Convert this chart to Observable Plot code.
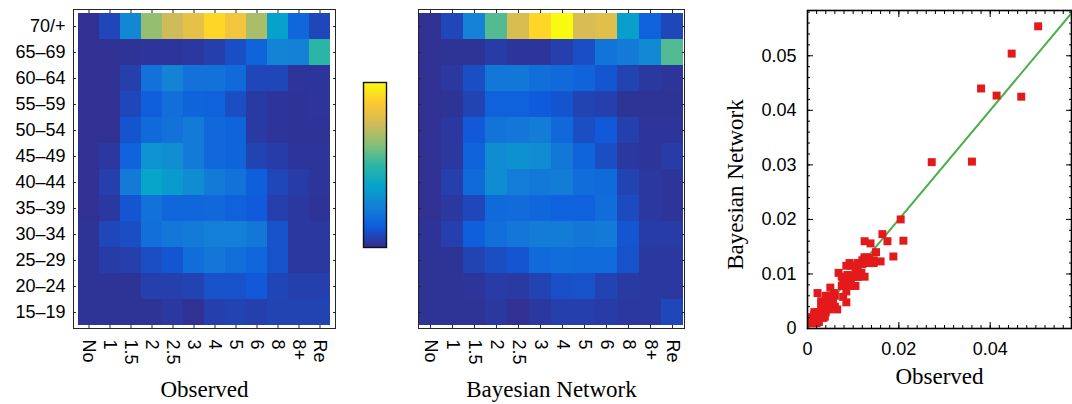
<!DOCTYPE html>
<html>
<head>
<meta charset="utf-8">
<script src="https://cdn.jsdelivr.net/npm/d3@7"></script>
<script src="https://cdn.jsdelivr.net/npm/@observablehq/plot@0.6"></script>
<style>
  html, body { margin: 0; padding: 0; background: #fff; }
  #wrap { position: relative; width: 1072px; height: 404px; overflow: hidden; background: #fff; }
</style>
</head>
<body>
<div id="wrap"></div>
<script>
// ---- data ----
const ageGroups = ["70/+", "65–69", "60–64", "55–59", "50–54", "45–49", "40–44", "35–39", "30–34", "25–29", "20–24", "15–19"];
const categories = ["No", "1", "1.5", "2", "2.5", "3", "4", "5", "6", "8", "8+", "Re"];

// Observed proportions (rows = ageGroups, columns = categories)
const observed = [
  [0.001, 0.004, 0.015, 0.036, 0.0414, 0.0447, 0.0505, 0.0468, 0.038, 0.0204, 0.009, 0.004],
  [0.001, 0.001, 0.0012, 0.0015, 0.0015, 0.002, 0.003, 0.005, 0.0085, 0.0145, 0.0138, 0.0272],
  [0.001, 0.001, 0.003, 0.011, 0.0145, 0.011, 0.011, 0.0095, 0.004, 0.004, 0.0015, 0.0015],
  [0.001, 0.001, 0.004, 0.0075, 0.0105, 0.0085, 0.0078, 0.0048, 0.0022, 0.0015, 0.0013, 0.0015],
  [0.001, 0.001, 0.0058, 0.0095, 0.011, 0.0125, 0.0092, 0.0085, 0.0022, 0.0015, 0.0013, 0.0013],
  [0.001, 0.002, 0.0078, 0.0175, 0.0164, 0.0125, 0.0092, 0.0085, 0.0035, 0.0025, 0.0015, 0.0015],
  [0.001, 0.003, 0.0125, 0.021, 0.0188, 0.016, 0.0125, 0.011, 0.0075, 0.004, 0.0025, 0.0015],
  [0.001, 0.002, 0.006, 0.011, 0.0088, 0.0088, 0.0092, 0.0078, 0.0068, 0.003, 0.002, 0.0013],
  [0.0012, 0.004, 0.005, 0.0105, 0.012, 0.0128, 0.0135, 0.0135, 0.012, 0.0055, 0.002, 0.002],
  [0.0012, 0.0025, 0.003, 0.0048, 0.006, 0.0102, 0.0118, 0.0105, 0.0088, 0.0055, 0.002, 0.002],
  [0.0012, 0.0012, 0.0012, 0.003, 0.003, 0.0035, 0.0055, 0.0055, 0.0065, 0.0038, 0.003, 0.003],
  [0.0012, 0.0012, 0.0012, 0.0012, 0.002, 0.001, 0.003, 0.0035, 0.003, 0.0035, 0.0035, 0.0035]
];

// Bayesian Network proportions (rows = ageGroups, columns = categories)
const bayesian = [
  [0.001, 0.004, 0.014, 0.0306, 0.0427, 0.0504, 0.0554, 0.0425, 0.044, 0.020, 0.008, 0.004],
  [0.001, 0.0012, 0.0012, 0.0025, 0.0015, 0.0015, 0.003, 0.005, 0.0115, 0.0125, 0.0156, 0.0305],
  [0.001, 0.002, 0.005, 0.012, 0.012, 0.0105, 0.0095, 0.0085, 0.006, 0.0035, 0.002, 0.0015],
  [0.001, 0.0012, 0.0035, 0.0078, 0.0078, 0.0068, 0.0058, 0.0035, 0.003, 0.0012, 0.0012, 0.0012],
  [0.001, 0.002, 0.0065, 0.0115, 0.0118, 0.013, 0.0092, 0.0048, 0.0065, 0.003, 0.0015, 0.0015],
  [0.001, 0.002, 0.0085, 0.016, 0.0173, 0.016, 0.012, 0.0085, 0.0048, 0.002, 0.0015, 0.0025],
  [0.001, 0.003, 0.0095, 0.0161, 0.0132, 0.0123, 0.013, 0.0102, 0.0095, 0.0035, 0.002, 0.0015],
  [0.001, 0.002, 0.004, 0.0095, 0.0098, 0.0088, 0.0078, 0.0078, 0.0102, 0.0045, 0.002, 0.0015],
  [0.0013, 0.003, 0.0075, 0.0105, 0.0118, 0.013, 0.013, 0.012, 0.0125, 0.006, 0.0025, 0.0025],
  [0.0012, 0.0012, 0.0035, 0.0048, 0.006, 0.0095, 0.0102, 0.0098, 0.0098, 0.0055, 0.002, 0.002],
  [0.0012, 0.0012, 0.0015, 0.0025, 0.0022, 0.0035, 0.0052, 0.0055, 0.0035, 0.0022, 0.002, 0.002],
  [0.0012, 0.0012, 0.0012, 0.002, 0.001, 0.002, 0.003, 0.003, 0.0025, 0.002, 0.002, 0.004]
];

const parulaStops = ["#352a87", "#0f5cdd", "#1481d6", "#06a4ca", "#2eb7a4", "#87bf77", "#d1bb59", "#fec832", "#f9fb0e"];
const colorMax = 0.0555;
const fitLine = [0, 0.0578];
const scatterXTicks = [0, 0.02, 0.04];
const scatterYTicks = [0, 0.01, 0.02, 0.03, 0.04, 0.05];

// ---- drawing ----
const H = 404;
const wrap = document.getElementById("wrap");
const sansFont = "'Liberation Sans', Arial, Helvetica, sans-serif";
const serifFont = "'Liberation Serif', 'Times New Roman', serif";
const blank = () => "";

function place(svg, left) {
  svg.style.position = "absolute";
  svg.style.left = left + "px";
  svg.style.top = "0px";
  wrap.appendChild(svg);
}

const colorScale = {
  type: "linear",
  domain: parulaStops.map((_, i) => i * colorMax / (parulaStops.length - 1)),
  range: parulaStops,
  interpolate: "rgb",
  clamp: true
};

function heatmap(matrix, title, showYLabels, left, frameLeft, frameRight) {
  const width = frameRight - left + 8;
  const cells = matrix.flatMap((row, i) => row.map((v, j) => ({age: ageGroups[i], cat: categories[j], v})));
  place(Plot.plot({
    width, height: H,
    marginLeft: frameLeft - left, marginRight: width - (frameRight - left),
    marginTop: 9, marginBottom: H - 328,
    x: {domain: categories, padding: 0},
    y: {domain: ageGroups, padding: 0},
    color: colorScale,
    style: {fontFamily: sansFont, fontSize: "18px", color: "#000", background: "transparent", overflow: "visible"},
    marks: [
      Plot.cell(cells, {x: "cat", y: "age", fill: "v"}),
      Plot.frame({stroke: "#262626"}),
      Plot.axisX({anchor: "bottom", tickSize: 3, dy: -3, tickFormat: blank, label: null, stroke: "#262626"}),
      Plot.axisX({anchor: "top", tickSize: 3, dy: 3, tickFormat: blank, label: null, stroke: "#262626"}),
      Plot.axisY({anchor: "left", tickSize: 3, dx: 3, tickFormat: blank, label: null, stroke: "#262626"}),
      Plot.axisY({anchor: "right", tickSize: 3, dx: -3, tickFormat: blank, label: null, stroke: "#262626"}),
      Plot.axisX({anchor: "bottom", tickSize: 0, tickPadding: 11, tickRotate: 90, fontSize: 18, label: null}),
      showYLabels ? Plot.axisY({anchor: "left", tickSize: 0, tickPadding: 8, fontSize: 18, label: null}) : null,
      Plot.text([title], {text: d => d, frameAnchor: "bottom", lineAnchor: "bottom", dy: 68, fontFamily: serifFont, fontSize: 23, fill: "#000"})
    ]
  }), left);
}

heatmap(observed, "Observed", true, 0, 73, 335);
heatmap(bayesian, "Bayesian Network", false, 400, 418, 684);

// colorbar
place(Plot.plot({
  width: 40, height: H,
  marginLeft: 8, marginRight: 9, marginTop: 82, marginBottom: H - 247,
  x: {domain: [0, 1], axis: null},
  y: {domain: [0, colorMax], axis: null},
  color: colorScale,
  style: {background: "transparent"},
  marks: [
    Plot.raster({x1: 0, x2: 1, y1: 0, y2: colorMax, fill: (x, y) => y, pixelSize: 1}),
    Plot.frame({stroke: "#111", strokeWidth: 1.4})
  ]
}), 355);

// scatter
const points = observed.flatMap((row, i) => row.map((v, j) => ({obs: v, bn: bayesian[i][j]})));
const minorTicks = d3.range(0, 0.0581, 0.002);
place(Plot.plot({
  width: 372, height: H,
  marginLeft: 107, marginRight: 1, marginTop: 10, marginBottom: H - 328,
  x: {domain: [0, 0.0578]},
  y: {domain: [0, 0.0583]},
  style: {fontFamily: sansFont, fontSize: "18px", color: "#000", background: "transparent", overflow: "visible"},
  marks: [
    Plot.line(fitLine, {x: d => d, y: d => d, stroke: "#4daf4a", strokeWidth: 2}),
    Plot.dot(points, {x: "obs", y: "bn", symbol: "square", r: 4.5, fill: "#e31a1c", stroke: null}),
    Plot.axisX({anchor: "bottom", ticks: minorTicks, tickSize: 3, dy: -3, tickFormat: blank, label: null, stroke: "#000"}),
    Plot.axisX({anchor: "top", ticks: minorTicks, tickSize: 3, dy: 3, tickFormat: blank, label: null, stroke: "#000"}),
    Plot.axisY({anchor: "left", ticks: minorTicks, tickSize: 3, dx: 3, tickFormat: blank, label: null, stroke: "#000"}),
    Plot.axisY({anchor: "right", ticks: minorTicks, tickSize: 3, dx: -3, tickFormat: blank, label: null, stroke: "#000"}),
    Plot.axisX({anchor: "bottom", ticks: scatterXTicks, tickSize: 6, dy: -6, tickFormat: blank, label: null, stroke: "#000"}),
    Plot.axisX({anchor: "top", ticks: scatterXTicks, tickSize: 6, dy: 6, tickFormat: blank, label: null, stroke: "#000"}),
    Plot.axisY({anchor: "left", ticks: scatterYTicks, tickSize: 6, dx: 6, tickFormat: blank, label: null, stroke: "#000"}),
    Plot.axisY({anchor: "right", ticks: scatterYTicks, tickSize: 6, dx: -6, tickFormat: blank, label: null, stroke: "#000"}),
    Plot.axisX({anchor: "bottom", ticks: scatterXTicks, tickSize: 0, tickPadding: 14, tickFormat: d => String(d), fontSize: 18, label: null}),
    Plot.axisY({anchor: "left", ticks: scatterYTicks, tickSize: 0, tickPadding: 11, tickFormat: d => String(d), fontSize: 18, label: null}),
    Plot.frame({stroke: "#000", strokeWidth: 1.6}),
    Plot.text(["Observed"], {text: d => d, frameAnchor: "bottom", lineAnchor: "bottom", dy: 55, fontFamily: serifFont, fontSize: 23, fill: "#000"}),
    Plot.text(["Bayesian Network"], {text: d => d, frameAnchor: "left", rotate: -90, dx: -72, dy: 15, lineAnchor: "middle", textAnchor: "middle", fontFamily: serifFont, fontSize: 23, fill: "#000"})
  ]
}), 700);
</script>
</body>
</html>
